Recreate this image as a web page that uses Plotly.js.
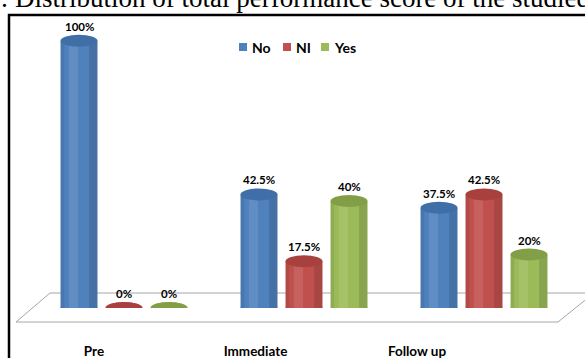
<!DOCTYPE html>
<html>
<head>
<meta charset="utf-8">
<script src="https://cdn.plot.ly/plotly-3.0.1.min.js"></script>
<style>html,body{margin:0;padding:0;background:#fff;}#chart{width:585px;height:358px;}</style>
</head>
<body>
<div id="chart"></div>
<script>
const categories = ['Pre', 'Immediate', 'Follow up'];
const seriesNames = ['No', 'NI', 'Yes'];
const noValues = [100, 42.5, 37.5];
const niValues = [0, 17.5, 42.5];
const yesValues = [0, 40, 20];
const titleText = 'Figure 2: Distribution of total performance score of the studied nurses';

const seriesValues = [noValues, niValues, yesValues];
const colors = ['#4F81BD', '#C0504D', '#9BBB59'];
const capColors = ['#406fa8', '#a8403e', '#829f48'];

// layout geometry (pixels)
const W = 585, H = 358;
const mL = 10, mR = 11, mT = 14, mB = 50;
const plotW = W - mL - mR, plotH = H - mT - mB;
const yMax = 110;
const px2x = p => (p - mL) / plotW;
const py2y = p => (H - mB - p) / plotH;

const bargap = 0.25, bargroupgap = 0.18;
const slot = (1 - bargap) / 3;
const halfW = slot * (1 - bargroupgap) / 2;
const ry = 6 * yMax / plotH;

const traces = seriesValues.map((vals, j) => ({
  type: 'bar', x: categories, y: vals, name: seriesNames[j],
  marker: {color: colors[j], line: {width: 0}},
  hoverinfo: 'skip', showlegend: false
}));
traces.push({type: 'scatter', x: categories, y: [null, null, null], xaxis: 'x2', yaxis: 'y',
  showlegend: false, hoverinfo: 'skip', mode: 'markers'});

const shapes = [];
// outer frame
shapes.push({type: 'rect', xref: 'paper', yref: 'paper', x0: px2x(9), x1: px2x(620), y0: py2y(15), y1: py2y(400),
  line: {color: '#000', width: 2.5}, fillcolor: 'rgba(0,0,0,0)', layer: 'below'});
// floor
const fl = [[16, 322], [50, 293], [594, 293], [558, 322]];
shapes.push({type: 'path', xref: 'paper', yref: 'paper',
  path: 'M' + fl.map(p => px2x(p[0]).toFixed(5) + ',' + py2y(p[1]).toFixed(5)).join(' L') + ' Z',
  line: {color: '#a6a6a6', width: 1}, fillcolor: '#ffffff', layer: 'below'});

const annotations = [];
const capShapes = [];
seriesValues.forEach((vals, j) => {
  vals.forEach((v, i) => {
    const xc = i + (j - 1) * slot;
    // rounded bottom
    shapes.push({type: 'circle', xref: 'x', yref: 'y', x0: xc - halfW, x1: xc + halfW, y0: -ry, y1: ry,
      fillcolor: colors[j], line: {width: 0}, layer: 'below'});
    if (v > 0) {
      // cylinder shading
      shapes.push({type: 'rect', xref: 'x', yref: 'y', x0: xc - halfW * 0.55, x1: xc - halfW * 0.05, y0: 0, y1: v,
        fillcolor: 'rgba(255,255,255,0.10)', line: {width: 0}, layer: 'above'});
      shapes.push({type: 'rect', xref: 'x', yref: 'y', x0: xc + halfW * 0.55, x1: xc + halfW, y0: 0, y1: v,
        fillcolor: 'rgba(0,0,0,0.12)', line: {width: 0}, layer: 'above'});
      shapes.push({type: 'rect', xref: 'x', yref: 'y', x0: xc - halfW, x1: xc - halfW * 0.8, y0: 0, y1: v,
        fillcolor: 'rgba(0,0,0,0.08)', line: {width: 0}, layer: 'above'});
    }
    capShapes.push({type: 'circle', xref: 'x', yref: 'y', x0: xc - halfW, x1: xc + halfW, y0: v - ry, y1: v + ry,
      fillcolor: capColors[j], line: {width: 0}, layer: 'above'});
    annotations.push({x: xc, y: v, xref: 'x', yref: 'y', text: v + '%', showarrow: false,
      yanchor: 'bottom', yshift: 6, font: {family: 'Lato', size: 11.5, color: '#000', weight: 'bold'}});
  });
});
capShapes.forEach(s => shapes.push(s));

// legend (squares + labels)
const legendX = [239, 283, 321];
seriesNames.forEach((name, j) => {
  const lx = legendX[j];
  shapes.push({type: 'rect', xref: 'paper', yref: 'paper', x0: px2x(lx), x1: px2x(lx + 8), y0: py2y(51), y1: py2y(43),
    fillcolor: colors[j], line: {width: 0}});
  annotations.push({xref: 'paper', yref: 'paper', x: px2x(lx + 11), y: py2y(47), xanchor: 'left', yanchor: 'middle',
    text: name, showarrow: false, font: {family: 'Lato', size: 14, color: '#000', weight: 'bold'}});
});

annotations.push({xref: 'paper', yref: 'paper', x: px2x(-92), y: py2y(-2.5), xanchor: 'left', yanchor: 'middle',
  text: titleText, showarrow: false, font: {family: 'Liberation Serif', size: 27.0, color: '#000'}});

// main x axis range so group centers sit at 124, 304, 484 px
const pxPerCat = 180, firstCenter = 124;
const x0 = -(firstCenter - mL) / pxPerCat;

const layout = {
  width: W, height: H,
  margin: {l: mL, r: mR, t: mT, b: mB, pad: 0},
  paper_bgcolor: '#fff', plot_bgcolor: 'rgba(0,0,0,0)',
  barmode: 'group', bargap: bargap, bargroupgap: bargroupgap,
  showlegend: false,
  xaxis: {type: 'category', range: [x0, x0 + plotW / pxPerCat], showticklabels: false, showgrid: false,
    zeroline: false, showline: false, ticks: ''},
  xaxis2: {type: 'category', categoryarray: categories, categoryorder: 'array', anchor: 'y',
    domain: [px2x(13.25), px2x(497.75)], range: [-0.5, 2.5], showgrid: false, zeroline: false, showline: false,
    ticks: '', ticklabelstandoff: 33, tickfont: {family: 'Lato', size: 13.5, color: '#000', weight: 'bold'}},
  yaxis: {range: [0, yMax], visible: false, showgrid: false, zeroline: false},
  shapes: shapes,
  annotations: annotations
};

Plotly.newPlot('chart', traces, layout, {displayModeBar: false, staticPlot: true});
</script>
</body>
</html>
